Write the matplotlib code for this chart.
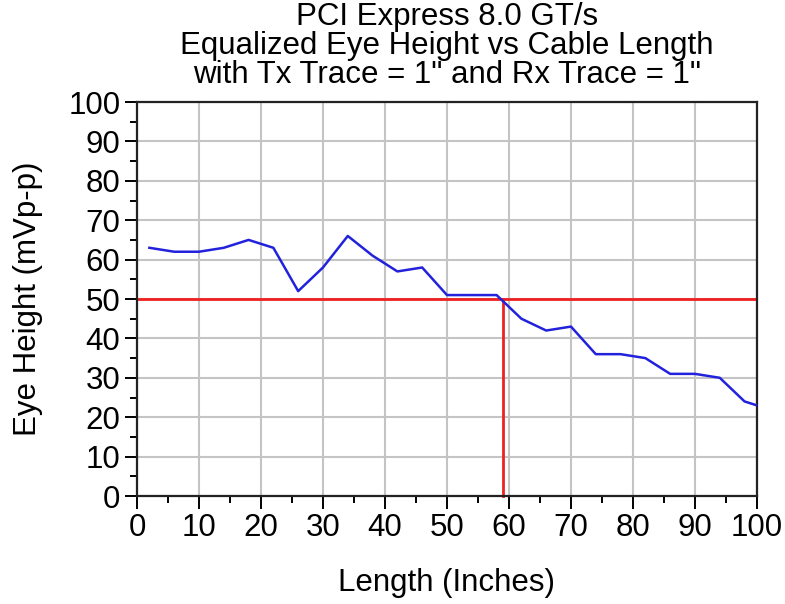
import matplotlib
matplotlib.use("Agg")
import matplotlib.pyplot as plt
from matplotlib.ticker import MultipleLocator

length_in = [2, 6, 10, 14, 18, 22, 26, 30, 34, 38, 42, 46, 50, 54, 58, 62, 66, 70, 74, 78, 82, 86, 90, 94, 98, 100]
eye_height = [63, 62, 62, 63, 65, 63, 52, 58, 66, 61, 57, 58, 51, 51, 51, 45, 42, 43, 36, 36, 35, 31, 31, 30, 24, 23]
limit_height = 50
limit_length = 59

plt.rcParams['font.family'] = ['Liberation Sans', 'DejaVu Sans']

fig = plt.figure(figsize=(7.85, 6.04), dpi=100)
ax = fig.add_axes([0.1745, 0.1788, 0.7898, 0.6523])

ax.plot(length_in, eye_height, color='#2222dd', lw=1.8, zorder=3)
ax.axhline(limit_height, color='#ee2020', lw=2.0, zorder=2)
ax.plot([limit_length, limit_length], [0, limit_height], color='#ee2020', lw=2.0, zorder=2, clip_on=False)

ax.set_xlim(0, 100)
ax.set_ylim(0, 100)
ax.xaxis.set_major_locator(MultipleLocator(10))
ax.xaxis.set_minor_locator(MultipleLocator(5))
ax.yaxis.set_major_locator(MultipleLocator(10))
ax.yaxis.set_minor_locator(MultipleLocator(5))
ax.grid(True, which='major', color='#c4c4c4', lw=1.5)
ax.set_axisbelow(True)
ax.tick_params(which='major', direction='out', length=9, width=1.4, labelsize=22.5, pad=3)
ax.tick_params(which='minor', direction='out', length=5, width=1.4)
for s in ax.spines.values():
    s.set_linewidth(1.6)
    s.set_color('#222222')

ax.set_xlabel('Length (Inches)', fontsize=22.5, labelpad=18)
ax.set_ylabel('Eye Height (mVp-p)', fontsize=22.5, labelpad=18)
ax.set_title('PCI Express 8.0 GT/s\nEqualized Eye Height vs Cable Length\nwith Tx Trace = 1" and Rx Trace = 1"',
             fontsize=22.5, linespacing=0.94, pad=14)

fig.savefig('out.png', dpi=100)
